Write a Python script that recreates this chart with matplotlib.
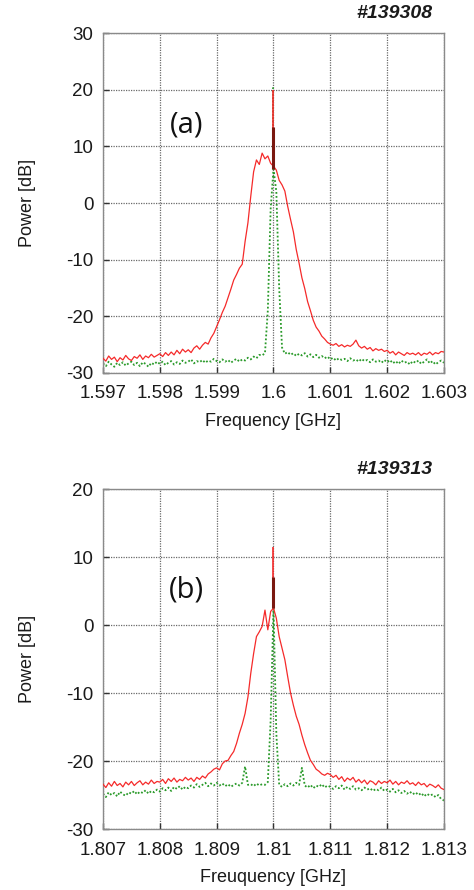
"""
Power spectra of two shots (#139308, #139313) - red / green traces
"""

import matplotlib

matplotlib.use("Agg")
import matplotlib.pyplot as plt
import numpy as np

# ── Style ──────────────────────────────────────────────
RED = "#f52a2a"
DARK_RED = "#7a1810"
GREEN = "#2a9a2a"
GRID = "#6a6a6a"
TEXT = "#1a1a1a"
plt.rcParams["font.family"] = ["Liberation Sans", "DejaVu Sans"]
plt.rcParams["axes.unicode_minus"] = False

# ── Data: panel (a) #139308, 1.597-1.603 GHz, 50 kHz steps ──
freq_a = np.round(np.linspace(1.597, 1.603, 121), 5)
red_a = [
    -27.4, -27.9, -27.0, -27.6, -27.2, -28.0, -27.3, -27.7, -26.9, -27.5,
    -27.8, -27.1, -27.4, -26.8, -27.6, -27.0, -27.3, -26.7, -27.2, -26.9,
    -26.6, -27.1, -26.4, -26.9, -26.3, -26.8, -26.0, -26.6, -25.8, -26.3,
    -25.9, -26.4, -25.6, -25.2, -25.8, -25.1, -24.6, -24.9, -23.8, -23.0,
    -21.8, -20.6, -19.3, -18.2, -16.7, -15.2, -13.6, -12.6, -11.5, -10.8,
    -6.8, -3.5, 1.2, 5.5, 7.6, 6.8, 8.8, 7.8, 8.3, 7.0,
    6.5,
    5.8, 4.0, 3.2, 2.1, -0.6, -2.9, -5.1, -8.2, -10.6,
    -13.2, -15.1, -17.4, -19.0, -20.7, -21.9, -22.6, -23.5, -24.0, -24.6,
    -24.9, -25.1, -24.8, -25.3, -25.0, -25.4, -25.1, -25.3, -24.9, -24.2,
    -25.2, -25.6, -25.3, -25.8, -25.5, -26.1, -25.7, -26.0, -25.8, -26.2,
    -26.0, -26.5, -26.2, -26.8, -26.3, -26.6, -26.9, -26.4, -26.7, -26.5,
    -26.8, -26.4, -26.9, -26.5, -26.7, -26.3, -26.8, -26.4, -26.6, -26.2, -26.3,
]
green_a = [
    -28.3, -28.8, -28.0, -28.5, -28.9, -28.2, -28.6, -28.1, -28.7, -28.3,
    -28.0, -28.6, -28.2, -28.8, -28.1, -28.4, -28.9, -28.2, -28.5, -28.0,
    -28.4, -28.0, -28.6, -28.2, -27.9, -28.5, -28.1, -28.4, -27.8, -28.2,
    -28.0, -27.6, -28.3, -27.9, -28.1, -27.7, -28.2, -27.8, -28.0, -27.5,
    -27.9, -28.1, -27.6, -28.0, -27.7, -28.2, -27.8, -27.5, -28.0, -27.6,
    -27.8, -27.3, -27.6, -27.1, -27.4, -26.8, -26.9, -26.5, -19.0, -1.0,
    6.0,
    2.0, -15.0, -25.5, -26.6, -26.3, -26.8, -26.5, -27.0, -26.6,
    -26.9, -26.5, -27.1, -26.7, -27.2, -26.8, -27.3, -27.0, -27.4, -27.1,
    -27.6, -27.3, -27.8, -27.4, -27.7, -27.5, -27.9, -27.4, -27.8, -27.6,
    -28.0, -27.5, -27.9, -27.7, -28.1, -27.6, -28.0, -27.8, -28.2, -27.7,
    -28.1, -27.7, -28.3, -27.9, -28.4, -27.8, -28.2, -28.0, -28.5, -27.9,
    -28.2, -27.8, -28.4, -28.0, -27.6, -28.3, -27.9, -28.5, -28.1, -27.8, -28.2,
]
# carrier line at the centre: (bottom, dark top, top)
carrier_a = 1.600
red_spike_a = [6.0, 13.5, 20.0]
green_spike_a = [6.0, 20.5]

# ── Data: panel (b) #139313, 1.807-1.813 GHz, 50 kHz steps ──
freq_b = np.round(np.linspace(1.807, 1.813, 121), 5)
red_b = [
    -23.4, -23.9, -23.2, -23.7, -23.0, -23.6, -23.3, -23.8, -23.1, -23.5,
    -23.0, -23.6, -23.2, -22.9, -23.5, -23.1, -23.4, -22.8, -23.3, -23.0,
    -23.1, -22.7, -23.3, -22.6, -23.0, -22.5, -23.1, -22.7, -22.9, -22.4,
    -22.8, -22.5, -23.0, -22.4, -22.7, -22.2, -22.5, -21.9, -21.6, -21.2,
    -21.0, -21.3, -20.4, -20.0, -19.9, -19.2, -18.6, -17.4, -15.9, -14.6,
    -13.0, -10.6, -7.1, -4.2, -1.7, -1.0, -0.2, 2.2, -0.7, 2.0,
    2.5,
    1.0, -1.7, -3.4, -5.1, -7.6, -10.0, -11.8, -13.4, -14.6,
    -16.2, -17.6, -18.8, -19.9, -20.5, -21.2, -21.5, -21.9, -22.1, -21.8,
    -22.0, -22.4, -22.1, -22.7, -22.3, -23.0, -22.5, -22.8, -22.4, -23.1,
    -22.7, -23.2, -22.8, -23.4, -22.9, -23.1, -23.5, -22.9, -23.3, -23.0,
    -23.2, -22.8, -23.4, -23.0, -23.5, -23.1, -23.3, -22.9, -23.4, -23.2,
    -23.6, -23.1, -23.5, -23.3, -23.8, -23.4, -23.6, -23.9, -23.5, -24.0, -24.2,
]
green_b = [
    -24.8, -25.3, -24.6, -25.0, -24.7, -25.2, -24.5, -24.9, -25.1, -24.6,
    -24.8, -24.4, -24.9, -24.5, -24.7, -24.3, -24.8, -24.4, -24.6, -24.2,
    -24.5, -24.0, -24.3, -23.9, -24.4, -23.8, -24.1, -23.7, -24.2, -23.8,
    -24.0, -23.6, -23.9, -23.4, -23.8, -23.5, -23.2, -23.7, -23.3, -23.6,
    -23.2, -23.6, -23.3, -23.7, -23.4, -23.8, -23.5, -23.3, -23.6, -23.2,
    -20.8, -23.5, -23.4, -23.7, -23.3, -23.6, -23.4, -23.5, -23.1, -14.0,
    2.5,
    -16.0, -23.5, -23.8, -23.4, -23.7, -23.3, -23.6, -23.2, -23.5,
    -21.0, -23.6, -23.9, -23.5, -24.0, -23.6, -23.8, -23.4, -23.9, -23.6,
    -23.8, -24.1, -23.7, -24.0, -23.6, -24.2, -23.8, -24.1, -23.7, -24.2,
    -24.0, -24.3, -23.9, -24.2, -24.0, -24.4, -24.1, -24.3, -23.9, -24.4,
    -24.2, -24.5, -24.1, -24.6, -24.3, -24.7, -24.4, -24.8, -24.5, -24.9,
    -24.6, -25.0, -24.7, -25.2, -24.8, -25.1, -24.9, -25.3, -25.0, -25.6, -25.8,
]
carrier_b = 1.810
red_spike_b = [2.5, 7.0, 11.5]

panels = [
    dict(freq=freq_a, red=red_a, green=green_a, f0=carrier_a,
         rspike=red_spike_a, gspike=green_spike_a,
         xticks=[1.597, 1.598, 1.599, 1.6, 1.601, 1.602, 1.603],
         xticklabels=["1.597", "1.598", "1.599", "1.6", "1.601", "1.602", "1.603"],
         ylim=(-30, 30), yticks=[-30, -20, -10, 0, 10, 20, 30],
         xlabel="Frequency [GHz]", shot="#139308", tag="(a)", tag_y=0.729,
         rect=[0.2173, 0.5809, 0.7194, 0.382], shot_y=0.985),
    dict(freq=freq_b, red=red_b, green=green_b, f0=carrier_b,
         rspike=red_spike_b, gspike=None,
         xticks=[1.807, 1.808, 1.809, 1.81, 1.811, 1.812, 1.813],
         xticklabels=["1.807", "1.808", "1.809", "1.81", "1.811", "1.812", "1.813"],
         ylim=(-30, 20), yticks=[-30, -20, -10, 0, 10, 20],
         xlabel="Freuquency [GHz]", shot="#139313", tag="(b)", tag_y=0.703,
         rect=[0.2173, 0.0685, 0.7194, 0.382], shot_y=0.472),
]

# ── Plot ───────────────────────────────────────────────
fig = plt.figure(figsize=(4.74, 8.9), dpi=100)
fig.patch.set_facecolor("white")

for p in panels:
    ax = fig.add_axes(p["rect"])
    ax.grid(True, linestyle=(0, (1, 1)), linewidth=0.9, color=GRID)
    ax.set_axisbelow(True)

    ax.plot(p["freq"], p["green"], linestyle=(0, (1, 1.2)), linewidth=1.3,
            color=GREEN, zorder=2)
    ax.plot(p["freq"], p["red"], linestyle="-", linewidth=0.9, color=RED, zorder=3)

    if p["gspike"] is not None:
        ax.vlines(p["f0"] - 0.000005, p["gspike"][0], p["gspike"][1],
                  colors=GREEN, linestyles=(0, (1, 1)), linewidth=1.2, zorder=2)
    ax.vlines(p["f0"], p["rspike"][0], p["rspike"][2], colors=RED,
              linewidth=1.2, zorder=4)
    ax.vlines(p["f0"], p["rspike"][0], p["rspike"][1], colors=DARK_RED,
              linewidth=2.2, zorder=5)

    ax.set_xlim(p["xticks"][0], p["xticks"][-1])
    ax.set_ylim(*p["ylim"])
    ax.set_xticks(p["xticks"])
    ax.set_xticklabels(p["xticklabels"])
    ax.set_yticks(p["yticks"])
    ax.tick_params(direction="in", length=4, width=1, color="#333333",
                   labelsize=13.5, labelcolor=TEXT)
    ax.tick_params(axis="x", pad=9)
    ax.tick_params(axis="y", pad=7)
    for s in ax.spines.values():
        s.set_color("#8a8a8a")
        s.set_linewidth(1.0)

    ax.set_xlabel(p["xlabel"], fontsize=13, color=TEXT)
    ax.xaxis.set_label_coords(0.5, -0.118)
    ax.set_ylabel("Power [dB]", fontsize=13, color=TEXT)
    ax.yaxis.set_label_coords(-0.196, 0.5)

    ax.text(0.246, p["tag_y"], p["tag"], transform=ax.transAxes, ha="center",
            va="center", fontsize=21, family=["Open Sans", "DejaVu Sans"],
            color="#111111")
    fig.text(0.913, p["shot_y"], p["shot"], ha="right", va="center",
             fontsize=14, fontweight="bold", fontstyle="italic", color=TEXT)

fig.savefig("out.png", dpi=100, facecolor="white")
plt.close()
